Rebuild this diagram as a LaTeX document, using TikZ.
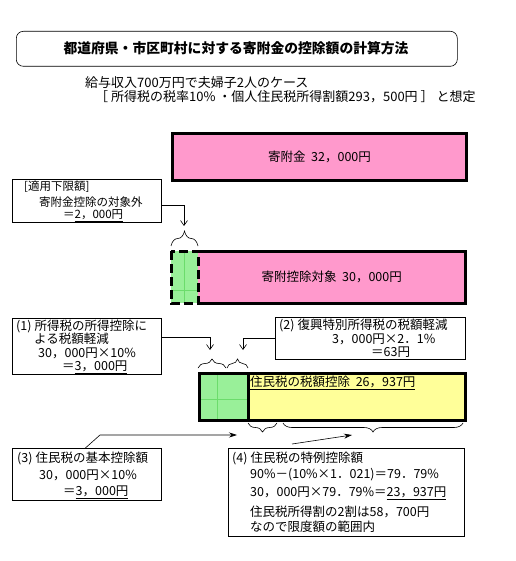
\documentclass[tikz,border=0pt]{standalone}
\usepackage{fontspec}
\setmainfont{Noto Sans CJK JP}
\usetikzlibrary{decorations.pathreplacing,arrows.meta}
\definecolor{pk}{HTML}{FF99CC}
\definecolor{gr}{HTML}{99F099}
\definecolor{yl}{HTML}{FFFF99}
\definecolor{gl}{HTML}{6CDC6C}
\newcommand\numpar[1]{\kern2pt(#1)\kern3pt}
\begin{document}
\begin{tikzpicture}[x=1pt,y=-1pt,
  txt/.style={anchor=west,inner sep=0pt,font=\fontsize{12.5}{14}\selectfont},
  stxt/.style={anchor=west,inner sep=0pt,font=\fontsize{11.5}{13}\selectfont},
  tbox/.style={draw=black,line width=0.8pt,anchor=north west,inner sep=0pt},
  thick bar/.style={line width=3pt},
  openarr/.style={line width=0.6pt,-{Straight Barb[length=5pt,width=7pt]}},
  solarr/.style={line width=0.6pt,-{Stealth[length=8pt,width=5pt]}},
  brup/.style={decorate,decoration={brace,amplitude=9pt},line width=0.6pt},
  gridln/.style={gl,line width=0.5pt}]
\useasboundingbox (0,0) rectangle (515,561);
% title
\node[draw=black,line width=0.6pt,rounded corners=7pt,minimum width=441pt,minimum height=35pt,anchor=north west,inner sep=0pt] (title) at (16,31) {};
\node[inner sep=0pt,font=\fontsize{13.8}{16}\selectfont\bfseries] (titletxt) at (236,48) {都道府県・市区町村に対する寄附金の控除額の計算方法};
\node[anchor=west,inner sep=0pt,font=\fontsize{13}{15}\selectfont] (sub1) at (85,83) {給与収入700万円で夫婦子2人のケース};
\node[anchor=west,inner sep=0pt,font=\fontsize{13}{15}\selectfont] (sub2) at (95,97) {［ 所得税の税率10\% ・個人住民税所得割額293，500円 ］ と想定};
% donation bar
\node[draw=black,thick bar,fill=pk,anchor=north west,minimum width=294pt,minimum height=47pt,inner sep=0pt,font=\fontsize{12.5}{14}\selectfont] (don) at (171,132) {寄附金\ \ 32，000円};
% lower limit box
\node[tbox,minimum width=149pt,minimum height=43pt] (lim) at (12,179) {};
\node[stxt] (lim1) at (24,187) {[適用下限額]};
\node[stxt] (lim2) at (39,202) {寄附金控除の対象外};
\node[stxt] (lim3) at (63,215.5) {＝\underline{2，000円}};
\coordinate (tipA) at (184,226);
\draw[openarr] ([yshift=-4pt]lim.east) -| (tipA);
\coordinate (brA1) at (171,246);
\coordinate (brA2) at (198,246);
\draw[decorate,decoration={brace,amplitude=15pt},line width=0.6pt] (brA1) -- (brA2);
% deduction target row
\node[fill=pk,draw=none,anchor=north west,minimum width=267pt,minimum height=52pt,inner sep=0pt,font=\fontsize{12.5}{14}\selectfont] (ded) at (198,251) {寄附控除対象\ \ 30，000円};
\draw[thick bar] (ded.north west) -- (ded.north east) -- (ded.south east) -- (ded.south west);
\node[fill=gr,draw=none,anchor=north west,minimum width=27pt,minimum height=52pt,inner sep=0pt] (lowg) at (171,251) {};
\draw[gridln] (184,251) -- (184,303) (171,290) -- (198,290);
\draw[thick bar,dash pattern=on 9pt off 4pt] (lowg.north west) rectangle (lowg.south east);
% box 1
\node[tbox,minimum width=149pt,minimum height=56pt] (b1) at (12,318) {};
\node[txt] (b1a) at (14,326) {\numpar{1}所得税の所得控除に};
\node[txt] (b1b) at (34,339) {よる税額軽減};
\node[txt] (b1c) at (38,353) {30，000円×10\%};
\node[txt] (b1d) at (62,367) {＝\underline{3，000円}};
\coordinate (tip1) at (210,350);
\draw[openarr] ([yshift=9pt]b1.east) -| (tip1);
% box 2
\node[tbox,minimum width=190pt,minimum height=42pt] (b2) at (275,317) {};
\node[txt] (b2a) at (277,325) {\numpar{2}復興特別所得税の税額軽減};
\node[txt] (b2b) at (332,339) {3，000円×2．1\%};
\node[txt] (b2c) at (371,353) {＝\underline{63円}};
\coordinate (tip2) at (243,350);
\draw[openarr] (b2.west) -| (tip2);
% braces above resident tax bar
\coordinate (br1a) at (198,368); \coordinate (br1b) at (226,368);
\coordinate (br2a) at (227,368); \coordinate (br2b) at (248,368);
\draw[brup] (br1a) -- (br1b);
\draw[brup] (br2a) -- (br2b);
% resident tax bar
\node[fill=yl,draw=none,anchor=north west,minimum width=266pt,minimum height=47pt,inner sep=0pt] (res) at (199,373) {};
\node[fill=gr,draw=none,anchor=north west,minimum width=49pt,minimum height=47pt,inner sep=0pt] (resg) at (199,373) {};
\draw[gridln] (217,373) -- (217,420) (199,399) -- (248,399);
\draw[thick bar] (res.north west) rectangle (res.south east);
\draw[thick bar] (resg.north east) -- (resg.south east);
\node[anchor=north west,inner sep=0pt,font=\fontsize{12.5}{14}\selectfont] (restxt) at (250,376) {\underline{住民税の税額控除\ \ 26，937円}};
% braces below
\coordinate (br3a) at (277,423); \coordinate (br3b) at (248,423);
\coordinate (br4a) at (463,423); \coordinate (br4b) at (283,423);
\draw[brup] (br3a) -- (br3b);
\draw[brup] (br4a) -- (br4b);
% box 3
\node[tbox,minimum width=149pt,minimum height=52pt] (b3) at (12,448) {};
\node[txt] (b3a) at (15,458) {\numpar{3}住民税の基本控除額};
\node[txt] (b3b) at (39,475) {30，000円×10\%};
\node[txt] (b3c) at (63,492) {＝\underline{3，000円}};
\coordinate (bend3) at (100,435);
\coordinate (tip3) at (237,435);
\draw[solarr] ([xshift=-1.5pt]b3.north) -- (bend3) -- (tip3);
% box 4
\node[tbox,minimum width=236pt,minimum height=88pt] (b4) at (228,448) {};
\node[txt] (b4a) at (230,458) {\numpar{4}住民税の特例控除額};
\node[txt] (b4b) at (250,475) {90\%－(10\%×1．021)＝79．79\%};
\node[txt] (b4c) at (250,493) {30，000円×79．79\%＝\underline{23，937円}};
\node[txt] (b4d) at (250,512) {住民税所得割の2割は58，700円};
\node[txt] (b4e) at (250,527) {なので限度額の範囲内};
\coordinate (st4) at (292,444);
\coordinate (tip4) at (352,435);
\draw[solarr] (st4) -- (tip4);
\end{tikzpicture}
\end{document}
